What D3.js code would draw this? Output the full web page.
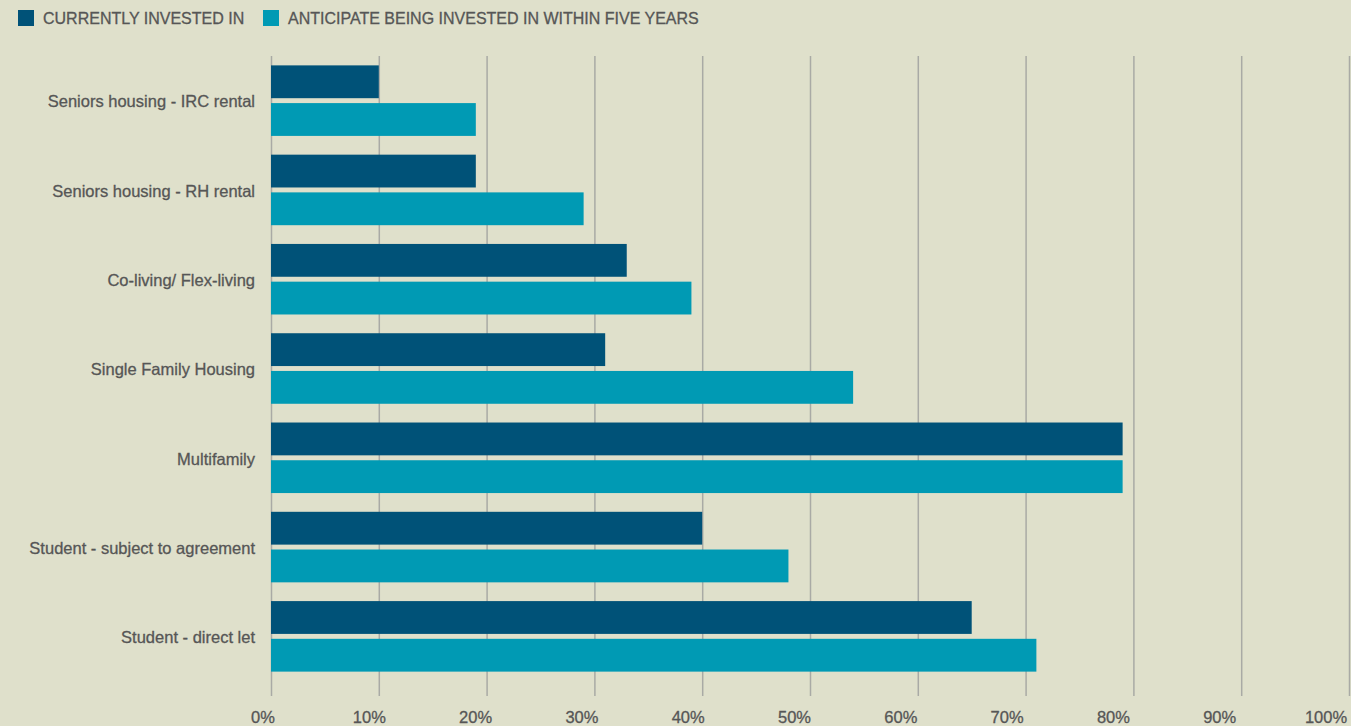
<!DOCTYPE html>
<html>
<head>
<meta charset="utf-8">
<script src="https://cdn.jsdelivr.net/npm/d3@7"></script>
<style>
  html, body { margin: 0; padding: 0; background: #dfe0cb; }
  body { width: 1351px; height: 726px; overflow: hidden; }
  text { font-family: "Liberation Sans", Arial, sans-serif; fill: #565656; stroke: #565656; stroke-width: 0.3px; }
</style>
</head>
<body>
<div id="chart"></div>
<script>
// data
const categories = [
  "Seniors housing - IRC rental",
  "Seniors housing - RH rental",
  "Co-living/ Flex-living",
  "Single Family Housing",
  "Multifamily",
  "Student - subject to agreement",
  "Student - direct let"
];
const seriesNames = ["CURRENTLY INVESTED IN", "ANTICIPATE BEING INVESTED IN WITHIN FIVE YEARS"];
const currentlyInvested = [10, 19, 33, 31, 79, 40, 65];
const anticipateInvested = [19, 29, 39, 54, 79, 48, 71];
const tickValues = [0, 10, 20, 30, 40, 50, 60, 70, 80, 90, 100];

const width = 1351, height = 726;
const colors = ["#005278", "#009ab4"];
const gridColor = "#a9aaa5";

const rows = categories.map((c, i) => ({
  name: c,
  values: [currentlyInvested[i], anticipateInvested[i]]
}));

const svg = d3.select("#chart").append("svg")
  .attr("width", width)
  .attr("height", height);

// scales
const x = d3.scaleLinear().domain([0, 100]).range([271, 1349]);
const y0 = d3.scaleBand().domain(categories).range([56, 681]).paddingInner(0.21).paddingOuter(0.105);
const y1 = d3.scaleBand().domain([0, 1]).range([0, y0.bandwidth()]).paddingInner(0.13);

// gridlines (drawn with an axis, ticks run up the chart)
const grid = svg.append("g")
  .attr("transform", "translate(0,696)")
  .call(d3.axisBottom(x).tickValues(tickValues).tickSize(-640).tickFormat(""));
grid.select(".domain").remove();
grid.selectAll(".tick line").attr("stroke", gridColor).attr("stroke-width", 1.5);

// tick labels sit a little left of their gridlines
const xLab = d3.scaleLinear().domain([0, 100]).range([263, 1326]);
svg.append("g").selectAll("text")
  .data(tickValues)
  .enter().append("text")
  .attr("x", d => xLab(d))
  .attr("y", 723)
  .attr("text-anchor", "middle")
  .style("font-size", "16.5px")
  .text(d => d + "%");

// bars
const groups = svg.append("g").selectAll("g")
  .data(rows)
  .enter().append("g")
  .attr("transform", d => "translate(0," + y0(d.name) + ")");

groups.selectAll("rect")
  .data(d => d.values)
  .enter().append("rect")
  .attr("x", x(0))
  .attr("y", (d, i) => y1(i))
  .attr("height", y1.bandwidth())
  .attr("width", d => x(d) - x(0))
  .attr("fill", (d, i) => colors[i]);

// category labels
svg.append("g").selectAll("text")
  .data(categories)
  .enter().append("text")
  .attr("x", 255)
  .attr("y", d => y0(d) + y0.bandwidth() / 2 + 1)
  .attr("dy", "0.35em")
  .attr("text-anchor", "end")
  .style("font-size", "16.5px")
  .text(d => d);

// legend
const legendPos = [18, 263];
const legend = svg.append("g").selectAll("g")
  .data(seriesNames)
  .enter().append("g")
  .attr("transform", (d, i) => "translate(" + legendPos[i] + ",10)");
legend.append("rect")
  .attr("width", 16).attr("height", 16)
  .attr("fill", (d, i) => colors[i]);
legend.append("text")
  .attr("x", 25)
  .attr("y", 14)
  .style("font-size", "16px")
  .text(d => d);
</script>
</body>
</html>
